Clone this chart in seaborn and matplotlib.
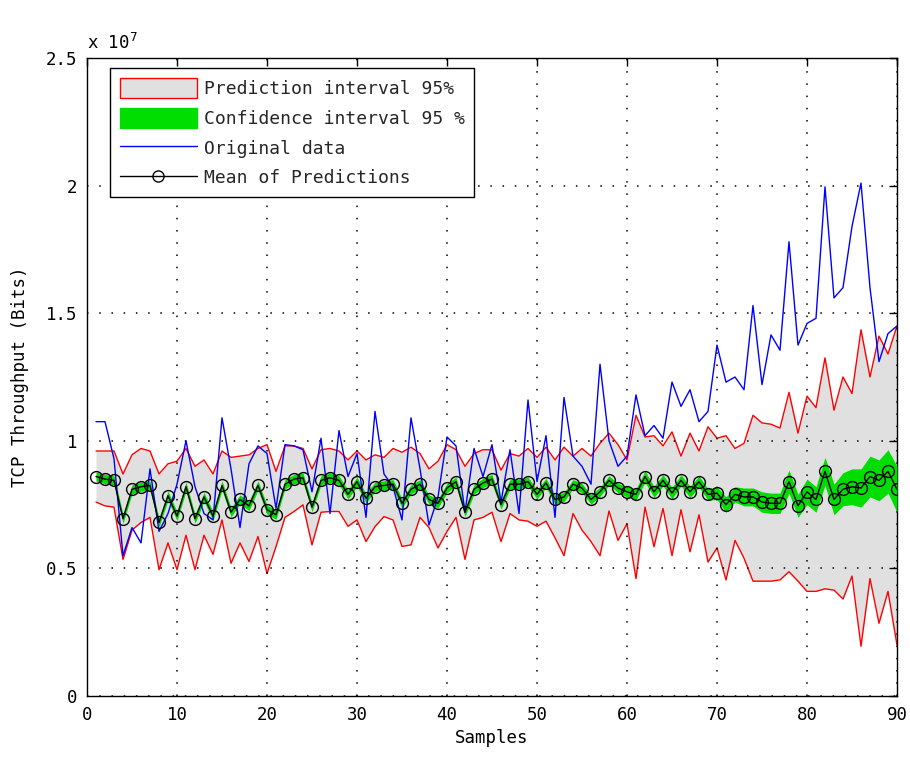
import numpy as np
import pandas as pd
import matplotlib
matplotlib.use("Agg")
import matplotlib.pyplot as plt
import seaborn as sns
from matplotlib.patches import Patch
from matplotlib.lines import Line2D

# ---- data (values in millions of bits) ----
samples = list(range(1, 91))

original_data = [10.75, 10.75, 9.3, 5.5, 6.6, 6.0, 8.9, 6.45, 7.15, 8.3,
                 10.0, 8.2, 7.15, 6.9, 10.9, 8.9, 6.6, 9.1, 9.8, 9.5,
                 7.35, 9.85, 9.8, 9.65, 8.0, 10.1, 7.15, 10.4, 8.6, 9.5,
                 7.0, 11.15, 8.7, 8.2, 6.9, 10.9, 8.9, 6.7, 7.8, 10.15,
                 9.8, 7.2, 9.7, 8.6, 9.85, 7.6, 9.65, 7.15, 11.6, 8.4,
                 10.2, 7.0, 11.7, 9.4, 9.0, 8.3, 13.0, 10.0, 9.0, 9.4,
                 11.8, 10.2, 10.6, 10.1, 12.3, 11.35, 12.0, 10.75, 11.15, 13.75,
                 12.3, 12.5, 12.0, 15.3, 12.2, 14.15, 13.55, 17.8, 13.75, 14.6,
                 14.8, 19.95, 15.6, 16.0, 18.4, 20.1, 16.0, 13.1, 14.2, 14.5]

mean_pred = [8.6, 8.5, 8.45, 6.95, 8.1, 8.2, 8.25, 6.8, 7.85, 7.05,
             8.2, 6.95, 7.8, 7.05, 8.25, 7.2, 7.7, 7.45, 8.25, 7.3,
             7.1, 8.3, 8.5, 8.55, 7.4, 8.45, 8.55, 8.45, 7.9, 8.4,
             7.75, 8.2, 8.25, 8.3, 7.55, 8.1, 8.3, 7.7, 7.55, 8.15,
             8.4, 7.2, 8.1, 8.35, 8.5, 7.5, 8.3, 8.3, 8.4, 7.9,
             8.35, 7.7, 7.8, 8.3, 8.15, 7.7, 8.0, 8.45, 8.15, 8.0,
             7.9, 8.6, 8.0, 8.45, 7.95, 8.45, 8.0, 8.4, 7.9, 7.95,
             7.5, 7.9, 7.8, 7.8, 7.6, 7.55, 7.55, 8.4, 7.45, 8.0,
             7.7, 8.8, 7.7, 8.1, 8.2, 8.15, 8.6, 8.45, 8.8, 8.1]

ci_halfwidth = [0.18, 0.18, 0.18, 0.18, 0.18, 0.18, 0.18, 0.18, 0.18, 0.18,
                0.18, 0.18, 0.18, 0.18, 0.18, 0.18, 0.18, 0.18, 0.18, 0.18,
                0.18, 0.18, 0.18, 0.18, 0.18, 0.18, 0.18, 0.18, 0.18, 0.18,
                0.18, 0.18, 0.18, 0.18, 0.18, 0.18, 0.18, 0.18, 0.18, 0.18,
                0.18, 0.18, 0.18, 0.18, 0.18, 0.18, 0.18, 0.18, 0.18, 0.18,
                0.18, 0.18, 0.18, 0.18, 0.18, 0.18, 0.18, 0.18, 0.18, 0.2,
                0.22, 0.22, 0.22, 0.22, 0.22, 0.22, 0.22, 0.22, 0.22, 0.25,
                0.3, 0.3, 0.35, 0.35, 0.4, 0.4, 0.4, 0.45, 0.45, 0.5,
                0.5, 0.55, 0.6, 0.65, 0.7, 0.75, 0.8, 0.8, 0.85, 0.9]

pi_upper = [9.6, 9.6, 9.6, 8.7, 9.45, 9.7, 9.6, 8.7, 9.1, 9.2,
            9.7, 9.0, 9.25, 8.7, 9.6, 9.35, 9.4, 9.45, 9.7, 9.85,
            8.8, 9.8, 9.8, 9.7, 8.9, 9.65, 9.7, 9.6, 9.25, 9.6,
            9.25, 9.45, 9.35, 9.7, 9.55, 9.75, 9.5, 8.9, 9.2, 9.85,
            9.65, 9.0, 9.5, 9.65, 9.65, 8.85, 9.5, 9.4, 9.7, 9.35,
            9.75, 9.25, 9.75, 9.4, 9.7, 9.4, 9.9, 10.3, 9.85, 9.25,
            11.0, 10.15, 10.2, 9.8, 10.35, 9.4, 10.3, 9.6, 10.55, 10.1,
            10.2, 9.7, 9.9, 11.0, 10.7, 10.65, 10.5, 11.9, 10.3, 11.75,
            11.3, 13.25, 11.2, 12.5, 11.85, 14.35, 12.5, 14.1, 13.4, 14.5]

pi_lower = [7.6, 7.45, 7.4, 5.35, 6.5, 6.8, 7.0, 4.95, 6.0, 4.95,
            6.3, 4.95, 6.3, 5.55, 6.9, 5.2, 6.0, 5.27, 6.25, 4.8,
            5.85, 7.0, 7.23, 7.49, 5.92, 7.2, 7.23, 7.23, 6.65, 6.9,
            6.05, 6.64, 7.03, 6.9, 5.86, 5.92, 7.0, 6.6, 5.8, 6.45,
            7.0, 5.35, 6.9, 7.0, 7.2, 6.05, 7.15, 6.9, 6.85, 6.65,
            6.85, 6.2, 5.5, 7.15, 6.5, 6.05, 5.5, 7.25, 6.1, 6.75,
            4.6, 7.4, 5.85, 7.35, 5.5, 7.3, 5.65, 7.1, 5.25, 5.8,
            4.55, 6.1, 5.4, 4.5, 4.5, 4.5, 4.55, 4.87, 4.5, 4.1,
            4.1, 4.2, 4.15, 3.8, 4.7, 1.95, 4.6, 2.85, 4.1, 2.0]

y_ticks = [0, 0.5, 1, 1.5, 2, 2.5]
y_tick_labels = ["0", "0.5", "1", "1.5", "2", "2.5"]
x_ticks = list(range(0, 91, 10))
legend_labels = ["Prediction interval 95%", "Confidence interval 95 %",
                 "Original data", "Mean of Predictions"]

scale = 1e6
df = pd.DataFrame({
    "sample": samples,
    "original": np.array(original_data) * scale,
    "mean": np.array(mean_pred) * scale,
    "ci_lo": (np.array(mean_pred) - np.array(ci_halfwidth)) * scale,
    "ci_hi": (np.array(mean_pred) + np.array(ci_halfwidth)) * scale,
    "pi_lo": np.array(pi_lower) * scale,
    "pi_hi": np.array(pi_upper) * scale,
})

sns.set_theme(style="white")
plt.rcParams["font.family"] = ["DejaVu Sans Mono", "DejaVu Sans"]
plt.rcParams["mathtext.fontset"] = "dejavusans"

fig = plt.figure(figsize=(9.1, 7.59), dpi=100)
# axes: x from 87 px to 897 px, y from 696 px (bottom) to 58 px (top)
ax = fig.add_axes([87 / 910, 1 - 696 / 759, 810 / 910, 638 / 759])

gray = "#e0e0e0"
green = "#00dd00"

ax.fill_between(df["sample"], df["pi_lo"], df["pi_hi"], color=gray, lw=0, zorder=1)
sns.lineplot(data=df, x="sample", y="pi_hi", color="red", lw=1, ax=ax, zorder=2)
sns.lineplot(data=df, x="sample", y="pi_lo", color="red", lw=1, ax=ax, zorder=2)
ax.fill_between(df["sample"], df["ci_lo"], df["ci_hi"], color=green, lw=0, zorder=3)
sns.lineplot(data=df, x="sample", y="original", color="blue", lw=1, ax=ax, zorder=4)
sns.lineplot(data=df, x="sample", y="mean", color="black", lw=1, marker="o",
             markersize=8.5, markerfacecolor="none", markeredgecolor="black",
             markeredgewidth=1, ax=ax, zorder=5)

ax.set_xlim(0, 90)
ax.set_ylim(0, 2.5e7)
ax.set_xticks(x_ticks)
ax.set_xticklabels([str(t) for t in x_ticks])
ax.set_yticks([v * 1e7 for v in y_ticks])
ax.set_yticklabels(y_tick_labels)

ax.grid(True, color="black", linestyle=(0, (1, 7)), linewidth=1.1)
ax.set_axisbelow(False)
for s in ax.spines.values():
    s.set_color("black")
    s.set_linewidth(1)
ax.tick_params(direction="in", top=True, right=True, length=6, width=1,
               colors="black", labelsize=12.5, pad=7)

ax.set_xlabel("Samples", fontsize=12.5, color="black", labelpad=4)
ax.set_ylabel("TCP Throughput (Bits)", fontsize=12.5, color="black", labelpad=12)
ax.text(0.0, 1.008, r"x 10$^{7}$", transform=ax.transAxes, ha="left",
        va="bottom", fontsize=12.5, color="black")

handles = [
    Patch(facecolor=gray, edgecolor="red", lw=1),
    Patch(facecolor=green, edgecolor=green, lw=1),
    Line2D([], [], color="blue", lw=1),
    Line2D([], [], color="black", lw=1, marker="o", markersize=8,
           markerfacecolor="none", markeredgecolor="black"),
]
leg = ax.legend(handles, legend_labels, loc="upper left",
                bbox_to_anchor=(0.028, 0.984), borderaxespad=0,
                fontsize=13, frameon=True, fancybox=False, framealpha=1,
                edgecolor="black", handlelength=4.3, handleheight=1.3,
                labelspacing=0.55, handletextpad=0.35, borderpad=0.55)
leg.get_frame().set_linewidth(1)
leg.set_zorder(10)

fig.savefig("out.png", dpi=100, facecolor="white")
